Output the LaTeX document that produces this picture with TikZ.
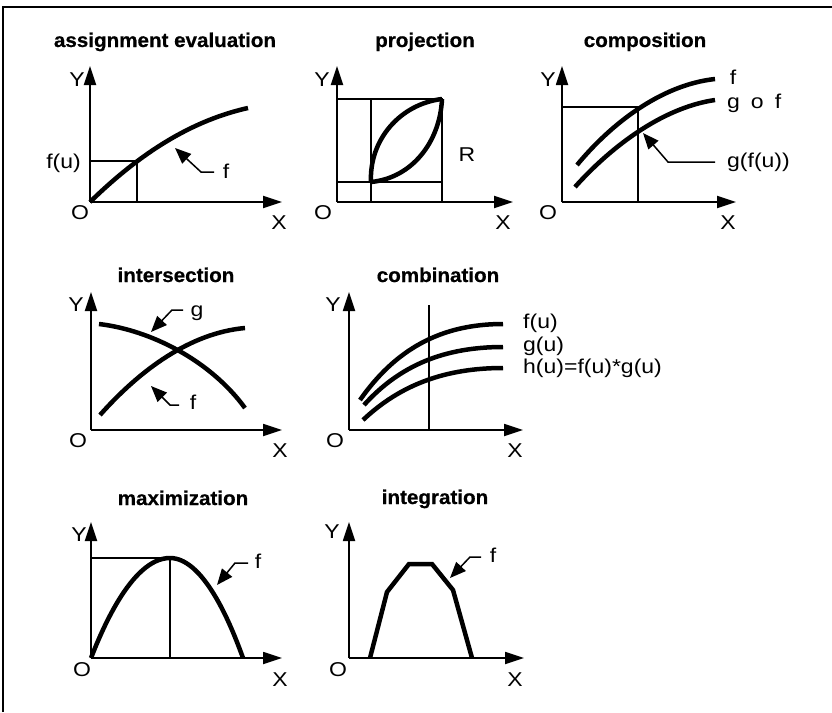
\documentclass[tikz,border=0pt]{standalone}
\usepackage{fontspec}
\setmainfont{Liberation Sans}
\newfontfamily\lblfont[FakeStretch=1.15]{Liberation Sans}
\newfontfamily\ttlfont[FakeStretch=1.03,FakeBold=0.6]{Liberation Sans Bold}
\usetikzlibrary{arrows.meta}
\begin{document}
\begin{tikzpicture}[x=1pt,y=-1pt,
  axis/.style={line width=1.8pt,-{Triangle[length=19pt,width=12pt]}},
  crv/.style={line width=4.5pt},
  thinln/.style={line width=1.1pt},
  ptr/.style={line width=1.5pt,-{Triangle[length=16pt,width=13pt]}},
  ttl/.style={font=\fontsize{20}{24}\ttlfont,inner sep=0pt,anchor=base},
  lbl/.style={font=\fontsize{20}{24}\lblfont,inner sep=0pt},
  frame/.style={line width=1.3pt}]
\useasboundingbox (0,0) rectangle (832,712);
% frame
\coordinate (fa) at (3,712); \coordinate (fb) at (3,7); \coordinate (fc) at (832,7);
\draw[frame] (fa) -- (fb) -- (fc);

% ===== Panel 1: assignment evaluation
\node[ttl] (t1) at (165,47) {assignment evaluation};
\coordinate (o1) at (90,202); \coordinate (y1) at (90,66); \coordinate (x1) at (282,202);
\draw[axis] (o1) -- (y1); \draw[axis] (o1) -- (x1);
\node[lbl] (Y1) at (77,80) {Y}; \node[lbl] (O1) at (80,213) {O}; \node[lbl] (X1) at (279,223) {X};
\coordinate (u1) at (137,161); \coordinate (u1x) at (137,202); \coordinate (u1y) at (90,161);
\draw[thinln] (u1y) -- (u1) -- (u1x);
\coordinate (e1) at (248,108);
\draw[crv] (o1) .. controls (133,160) and (185,122) .. (e1);
\node[lbl,anchor=east] (fu1) at (81,163) {f(u)};
\node[lbl] (f1) at (226,171) {f};
\coordinate (p1s) at (214,172); \coordinate (p1c) at (201,172); \coordinate (p1t) at (175,148);
\draw[ptr] (p1s) -- (p1c) -- (p1t);

% ===== Panel 2: projection
\node[ttl] (t2) at (425,47) {projection};
\coordinate (o2) at (337,202); \coordinate (y2) at (337,66); \coordinate (x2) at (513,202);
\draw[axis] (o2) -- (y2); \draw[axis] (o2) -- (x2);
\node[lbl] (Y2) at (322,80) {Y}; \node[lbl] (O2) at (323,213) {O}; \node[lbl] (X2) at (503,223) {X};
\coordinate (r1) at (337,99); \coordinate (r2) at (442,99); \coordinate (r3) at (442,202);
\coordinate (r4) at (371,99); \coordinate (r5) at (371,202);
\coordinate (r6) at (337,182); \coordinate (r7) at (442,182);
\draw[thinln] (r1) -- (r2) -- (r3);
\draw[thinln] (r4) -- (r5);
\draw[thinln] (r6) -- (r7);
\coordinate (la) at (371,182); \coordinate (lb) at (442,99);
\draw[crv] (la) .. controls (369,140) and (400,104) .. (lb);
\draw[crv] (la) .. controls (412,178) and (440,142) .. (lb);
\node[lbl] (R2) at (467,155) {R};

% ===== Panel 3: composition
\node[ttl] (t3) at (645,47) {composition};
\coordinate (o3) at (562,202); \coordinate (y3) at (562,66); \coordinate (x3) at (736,202);
\draw[axis] (o3) -- (y3); \draw[axis] (o3) -- (x3);
\node[lbl] (Y3) at (548,80) {Y}; \node[lbl] (O3) at (548,213) {O}; \node[lbl] (X3) at (728,223) {X};
\coordinate (c1) at (562,107); \coordinate (c2) at (638,107); \coordinate (c3) at (638,202);
\draw[thinln] (c1) -- (c2) -- (c3);
\coordinate (fa3) at (577,165); \coordinate (fb3) at (715,79);
\coordinate (ga3) at (575,187); \coordinate (gb3) at (715,100);
\draw[crv] (fa3) .. controls (610,125) and (660,85) .. (fb3);
\draw[crv] (ga3) .. controls (608,150) and (660,108) .. (gb3);
\node[lbl] (f3) at (733,77) {f};
\node[lbl,anchor=base west] (gof) at (727,108) {g\hspace{11pt}o\hspace{11pt}f};
\node[lbl,anchor=west] (gfu) at (727,162) {g(f(u))};
\coordinate (p3s) at (715,162); \coordinate (p3c) at (668,162); \coordinate (p3t) at (643,133);
\draw[ptr] (p3s) -- (p3c) -- (p3t);

% ===== Panel 4: intersection
\node[ttl] (t4) at (176,282) {intersection};
\coordinate (o4) at (91,430); \coordinate (y4) at (91,292); \coordinate (x4) at (282,430);
\draw[axis] (o4) -- (y4); \draw[axis] (o4) -- (x4);
\node[lbl] (Y4) at (76,305) {Y}; \node[lbl] (O4) at (78,441) {O}; \node[lbl] (X4) at (280,451) {X};
\coordinate (fa4) at (100,415); \coordinate (fb4) at (245,328);
\coordinate (ga4) at (99,324); \coordinate (gb4) at (245,408);
\draw[crv] (fa4) .. controls (140,370) and (190,333) .. (fb4);
\draw[crv] (ga4) .. controls (150,330) and (210,360) .. (gb4);
\node[lbl] (g4) at (197,313) {g};
\node[lbl] (f4) at (193,402) {f};
\coordinate (p4s) at (183,310); \coordinate (p4c) at (172,310); \coordinate (p4t) at (151,332);
\draw[ptr] (p4s) -- (p4c) -- (p4t);
\coordinate (p5s) at (179,405); \coordinate (p5c) at (170,405); \coordinate (p5t) at (151,386);
\draw[ptr] (p5s) -- (p5c) -- (p5t);

% ===== Panel 5: combination
\node[ttl] (t5) at (438,282) {combination};
\coordinate (o5) at (349,430); \coordinate (y5) at (349,292); \coordinate (x5) at (523,430);
\draw[axis] (o5) -- (y5); \draw[axis] (o5) -- (x5);
\node[lbl] (Y5) at (333,305) {Y}; \node[lbl] (O5) at (335,441) {O}; \node[lbl] (X5) at (515,451) {X};
\coordinate (v5a) at (429,305); \coordinate (v5b) at (429,430);
\draw[thinln] (v5a) -- (v5b);
\coordinate (fa5) at (360,400); \coordinate (fb5) at (503,324);
\coordinate (ga5) at (364,405); \coordinate (gb5) at (503,347);
\coordinate (ha5) at (363,420); \coordinate (hb5) at (503,368);
\draw[crv] (fa5) .. controls (395,350) and (440,324) .. (fb5);
\draw[crv] (ga5) .. controls (400,365) and (445,347) .. (gb5);
\draw[crv] (ha5) .. controls (400,385) and (445,368) .. (hb5);
\node[lbl,anchor=base west] (fu5) at (523,328) {f(u)};
\node[lbl,anchor=base west] (gu5) at (523,351) {g(u)};
\node[lbl,anchor=base west] (hu5) at (523,373) {h(u)=f(u)*g(u)};

% ===== Panel 6: maximization
\node[ttl] (t6) at (183,505) {maximization};
\coordinate (o6) at (91,658); \coordinate (y6) at (91,522); \coordinate (x6) at (282,658);
\draw[axis] (o6) -- (y6); \draw[axis] (o6) -- (x6);
\node[lbl] (Y6) at (79,535) {Y}; \node[lbl] (O6) at (82,670) {O}; \node[lbl] (X6) at (280,680) {X};
\coordinate (m1) at (91,558); \coordinate (m2) at (170,558); \coordinate (m3) at (170,658);
\draw[thinln] (m1) -- (m2) -- (m3);
\coordinate (pe6) at (243,658);
\draw[crv] (o6) parabola bend (m2) (pe6);
\node[lbl] (f6) at (258,561) {f};
\coordinate (p6s) at (248,563); \coordinate (p6c) at (235,563); \coordinate (p6t) at (217,585);
\draw[ptr] (p6s) -- (p6c) -- (p6t);

% ===== Panel 7: integration
\node[ttl] (t7) at (435,504) {integration};
\coordinate (o7) at (349,658); \coordinate (y7) at (349,522); \coordinate (x7) at (524,658);
\draw[axis] (o7) -- (y7); \draw[axis] (o7) -- (x7);
\node[lbl] (Y7) at (332,532) {Y}; \node[lbl] (O7) at (338,670) {O}; \node[lbl] (X7) at (515,680) {X};
\coordinate (q1) at (370,658); \coordinate (q2) at (387,592); \coordinate (q3) at (409,564);
\coordinate (q4) at (432,564); \coordinate (q5) at (453,590); \coordinate (q6) at (472,658);
\draw[crv,line join=miter] (q1) -- (q2) -- (q3) -- (q4) -- (q5) -- (q6);
\node[lbl] (f7) at (493,555) {f};
\coordinate (p7s) at (481,557); \coordinate (p7c) at (470,557); \coordinate (p7t) at (450,578);
\draw[ptr] (p7s) -- (p7c) -- (p7t);
\end{tikzpicture}
\end{document}
